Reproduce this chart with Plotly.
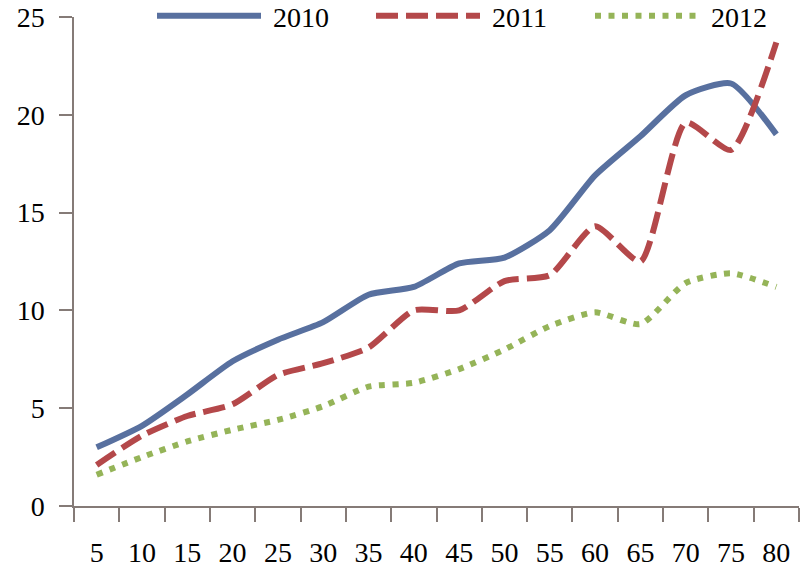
import plotly.graph_objects as go

categories = ["5", "10", "15", "20", "25", "30", "35", "40", "45", "50", "55", "60", "65", "70", "75", "80"]
series_2010 = [3.0, 4.1, 5.7, 7.4, 8.5, 9.4, 10.8, 11.2, 12.4, 12.7, 14.1, 16.9, 18.9, 21.0, 21.6, 19.0]
series_2011 = [2.1, 3.6, 4.6, 5.2, 6.7, 7.3, 8.1, 10.0, 10.0, 11.5, 11.8, 14.3, 12.5, 19.6, 18.2, 23.7]
series_2012 = [1.6, 2.5, 3.3, 3.9, 4.4, 5.1, 6.1, 6.3, 7.0, 8.0, 9.2, 9.9, 9.3, 11.4, 11.9, 11.2]
y_ticks = [0, 5, 10, 15, 20, 25]

FONT = "Liberation Serif"
AXIS_COLOR = "#857b77"
NB = "\u00a0"

fig = go.Figure()
fig.add_trace(go.Scatter(x=categories, y=series_2010, name=NB + "2010", mode="lines",
                         line=dict(color="#58709f", width=6, shape="spline", smoothing=0.6)))
fig.add_trace(go.Scatter(x=categories, y=series_2011, name=NB + "2011", mode="lines",
                         line=dict(color="#b4484a", width=6, shape="spline", smoothing=0.6, dash="22px,8px")))
fig.add_trace(go.Scatter(x=categories, y=series_2012, name=NB + "2012", mode="lines",
                         line=dict(color="#95b458", width=6, shape="spline", smoothing=0.6, dash="6px,7.5px")))

fig.update_layout(
    width=800, height=576,
    margin=dict(l=74, r=1, t=17, b=70, autoexpand=False),
    paper_bgcolor="white", plot_bgcolor="white",
    font=dict(family=FONT, size=28, color="black"),
    showlegend=True,
    legend=dict(orientation="h", xref="container", yref="container",
                x=0.19, xanchor="left", y=0.972, yanchor="middle",
                itemwidth=104, entrywidth=100, entrywidthmode="pixels",
                font=dict(family=FONT, size=28), bgcolor="rgba(0,0,0,0)"),
)
fig.update_xaxes(type="category", range=[-0.5, 15.5], showline=True, linecolor=AXIS_COLOR, linewidth=1.5,
                 ticks="outside", tickson="boundaries", ticklen=14, tickcolor=AXIS_COLOR, tickwidth=1.5,
                 showgrid=False, zeroline=False, ticklabelstandoff=21,
                 tickfont=dict(family=FONT, size=28))
fig.update_yaxes(range=[0, 25], tickvals=y_ticks, showline=True, linecolor=AXIS_COLOR, linewidth=1.5,
                 ticks="outside", ticklen=13, tickcolor=AXIS_COLOR, tickwidth=1.5,
                 showgrid=False, zeroline=False, ticklabelstandoff=9,
                 tickfont=dict(family=FONT, size=28))

fig.write_html("out.html", config={"displayModeBar": False},
               post_script="document.body.style.margin='0px';")
